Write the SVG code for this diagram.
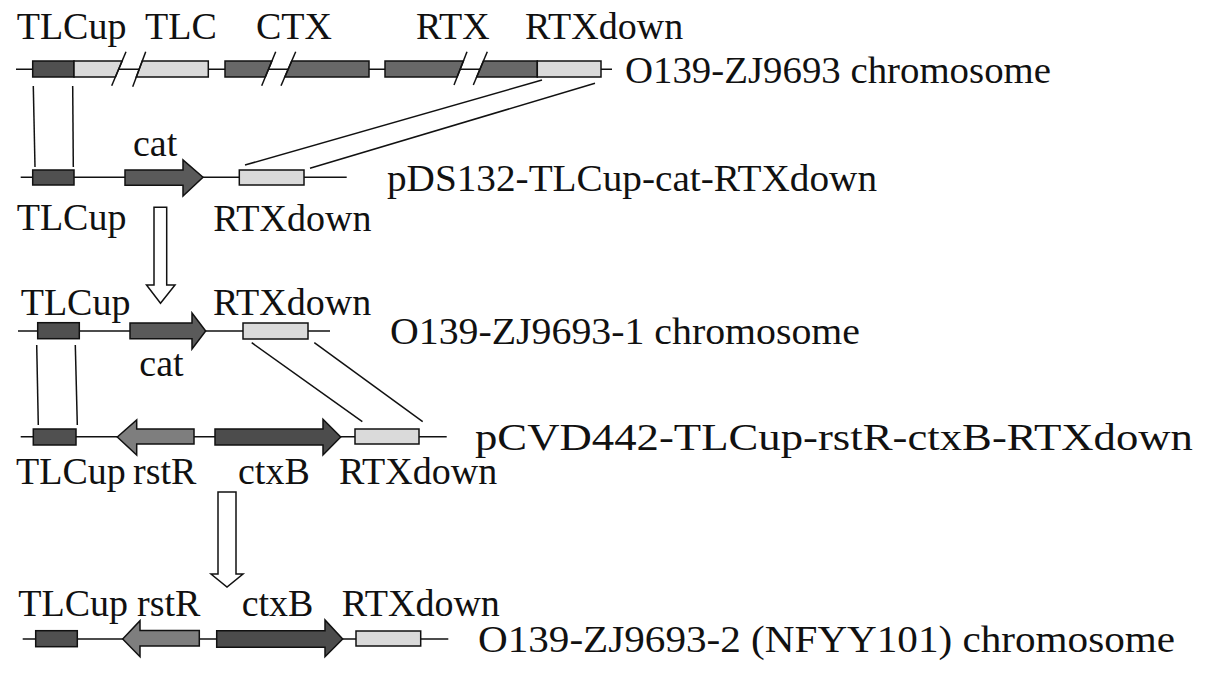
<svg xmlns="http://www.w3.org/2000/svg" width="1205" height="674" viewBox="0 0 1205 674">
<style>
text{font-family:"Liberation Serif","Times New Roman",serif;font-size:38px;fill:#111}
.bb{stroke:#111;stroke-width:1.5}
.ln{stroke:#111;stroke-width:1.5;fill:none}
.up{fill:#505050}
.mid{fill:#686868}
.cat{fill:#5a5a5a}
.ctx{fill:#4c4c4c}
.rst{fill:#7e7e7e}
.lt{fill:#dadada}
.hol{fill:#fff;stroke:#111;stroke-width:1.5}
</style>
<rect width="1205" height="674" fill="#fff"/>
<g id="row1">
<line class="ln" x1="16" y1="69.3" x2="612" y2="69.3"/>
<rect class="bb up" x="32.7" y="61" width="41.3" height="16"/>
<polygon class="bb lt" points="74,61 122.1,61 115.4,77 74,77"/>
<polygon class="bb lt" points="142.2,61 208.3,61 208.3,77 136.3,77"/>
<polygon class="bb mid" points="225,61 271.9,61 265.3,77 225,77"/>
<polygon class="bb mid" points="291.7,61 369,61 369,77 284.8,77"/>
<polygon class="bb mid" points="385,61 463.4,61 457.1,77 385,77"/>
<polygon class="bb mid" points="483.4,61 537.3,61 537.3,77 476.7,77"/>
<rect class="bb lt" x="537.3" y="61" width="63.7" height="16"/>
<line class="ln" x1="111.7" y1="85.7" x2="126" y2="51.7"/>
<line class="ln" x1="132.7" y1="86.7" x2="145.7" y2="51.7"/>
<line class="ln" x1="261.7" y1="85.7" x2="275.7" y2="51.7"/>
<line class="ln" x1="281" y1="85.7" x2="295.7" y2="51.7"/>
<line class="ln" x1="454" y1="85" x2="467" y2="51.7"/>
<line class="ln" x1="473.3" y1="85" x2="487.3" y2="51.7"/>
<text x="16.7" y="39">TLCup</text>
<text x="145" y="39">TLC</text>
<text x="256" y="39">CTX</text>
<text x="416" y="39">RTX</text>
<text x="525" y="39">RTXdown</text>
<text x="625" y="83" textLength="426" lengthAdjust="spacingAndGlyphs">O139-ZJ9693 chromosome</text>
</g>
<g id="row2">
<line class="ln" x1="20.7" y1="177.3" x2="346.7" y2="177.3"/>
<rect class="bb up" x="32.7" y="170" width="41.3" height="15"/>
<polygon class="bb cat" points="125,170 183,170 183,160 203,177.3 183,196 183,185.3 125,185.3"/>
<rect class="bb lt" x="239.3" y="170" width="64.7" height="15"/>
<text x="133" y="156">cat</text>
<text x="16.7" y="230">TLCup</text>
<text x="213.3" y="231">RTXdown</text>
<text x="387" y="191" textLength="490" lengthAdjust="spacingAndGlyphs">pDS132-TLCup-cat-RTXdown</text>
</g>
<g id="row3">
<line class="ln" x1="18" y1="331" x2="330" y2="331"/>
<rect class="bb up" x="37.7" y="322.7" width="41.6" height="16"/>
<polygon class="bb cat" points="130,323 192,323 192,313 205.7,331 192,349 192,338.7 130,338.7"/>
<rect class="bb lt" x="243" y="323" width="65" height="16"/>
<text x="20.7" y="315">TLCup</text>
<text x="213" y="315">RTXdown</text>
<text x="139.3" y="376">cat</text>
<text x="390" y="344" textLength="470" lengthAdjust="spacingAndGlyphs">O139-ZJ9693-1 chromosome</text>
</g>
<g id="row4">
<line class="ln" x1="20.7" y1="436.7" x2="446.7" y2="436.7"/>
<rect class="bb up" x="33.3" y="429" width="42.7" height="16"/>
<polygon class="bb rst" points="117.3,437 136.7,420 136.7,429 194,429 194,444 136.7,444 136.7,455"/>
<polygon class="bb ctx" points="215,429 323,429 323,419.3 340.7,437 323,455 323,445 215,445"/>
<rect class="bb lt" x="355" y="429" width="64" height="15"/>
<text x="16" y="484">TLCup</text>
<text x="133" y="484">rstR</text>
<text x="238" y="484">ctxB</text>
<text x="339" y="484">RTXdown</text>
<text x="475" y="450" textLength="718" lengthAdjust="spacingAndGlyphs">pCVD442-TLCup-rstR-ctxB-RTXdown</text>
</g>
<g id="row5">
<line class="ln" x1="22.7" y1="639" x2="448.3" y2="639"/>
<rect class="bb up" x="35.7" y="630.7" width="41.6" height="16"/>
<polygon class="bb rst" points="122.7,639 140,620.7 140,630.5 199.3,630.5 199.3,646 140,646 140,656.7"/>
<polygon class="bb ctx" points="216.7,630.7 325,630.7 325,620 342.7,639 325,656.7 325,647.3 216.7,647.3"/>
<rect class="bb lt" x="356" y="631" width="64.7" height="15"/>
<text x="18.3" y="616">TLCup</text>
<text x="137" y="616">rstR</text>
<text x="241.7" y="616">ctxB</text>
<text x="341.7" y="616">RTXdown</text>
<text x="478" y="652" textLength="697" lengthAdjust="spacingAndGlyphs">O139-ZJ9693-2 (NFYY101) chromosome</text>
</g>
<g id="connectors">
<line class="ln" x1="33.3" y1="86" x2="35" y2="167"/>
<line class="ln" x1="72.7" y1="86" x2="73.3" y2="167"/>
<line class="ln" x1="542" y1="80" x2="245" y2="165"/>
<line class="ln" x1="595" y1="83.3" x2="310" y2="168.3"/>
<line class="ln" x1="36.7" y1="345" x2="38.3" y2="425"/>
<line class="ln" x1="75.3" y1="345" x2="77.3" y2="425"/>
<line class="ln" x1="251.7" y1="342.7" x2="362.3" y2="421.7"/>
<line class="ln" x1="314.3" y1="342.7" x2="422.7" y2="421.7"/>
<polygon class="hol" points="154,207.3 166.7,207.3 166.7,285 175,285 160.5,303.3 146.5,285 154,285"/>
<polygon class="hol" points="218,492 236,492 236,574 243,574 227,587 211,574 218,574"/>
</g>
</svg>
